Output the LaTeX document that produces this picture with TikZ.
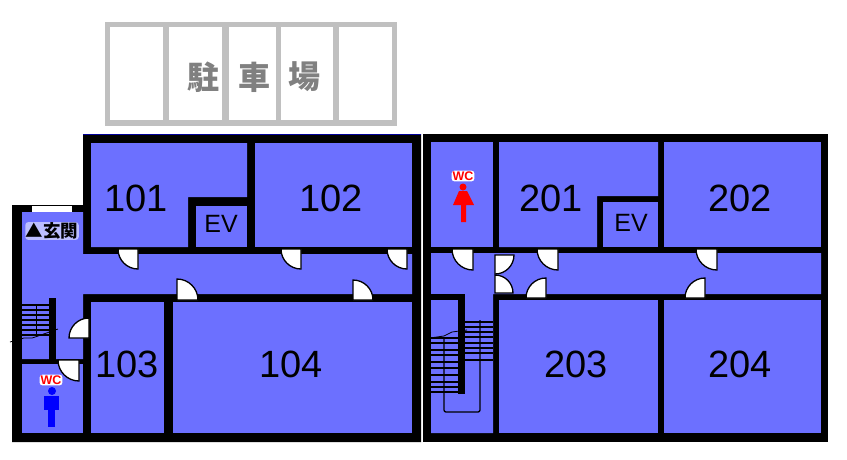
\documentclass[tikz,border=0pt]{standalone}
\usepackage{fontspec}
\setsansfont{Liberation Sans}
\newfontfamily\cjk{Noto Sans CJK JP}
\definecolor{roomblue}{HTML}{6C70FF}
\definecolor{parkgray}{HTML}{C0C0C0}
\begin{document}
\begin{tikzpicture}[x=1pt,y=-1pt,font=\sffamily]
    \tikzstyle{wall} = [fill=black]
    \tikzstyle{room} = [fill=roomblue]
    \tikzstyle{cell} = [fill=white]
    \tikzstyle{door} = [fill=white, draw=black, line width=1.3pt]
    \tikzstyle{tread} = [line width=1.7pt]
    \tikzstyle{number} = [font=\sffamily\fontsize{38}{38}\selectfont, inner sep=0pt]
    \tikzstyle{evlabel} = [font=\sffamily\fontsize{25}{25}\selectfont, inner sep=0pt]
    \tikzstyle{parklabel} = [font=\cjk\bfseries\fontsize{32}{32}\selectfont, text=black!50, inner sep=0pt]
    \tikzstyle{wclabel} = [font=\sffamily\bfseries\fontsize{12.5}{12.5}\selectfont, text=red, fill=white, rounded corners=3pt, inner sep=1pt]
    \useasboundingbox (0,0) rectangle (847,459);
    % Parking
    \fill [parkgray] (105,22) rectangle (397,126);
    \foreach \xa/\xb in {110/163, 169/222, 229/276, 281/333, 339/392}
        \fill [cell] (\xa,27) rectangle (\xb,120);
    \node (park1) [parklabel] at (203,77) {駐};
    \node (park2) [parklabel] at (254,77) {車};
    \node (park3) [parklabel] at (304,77) {場};
    % Walls
    \fill [wall] (12,205) -- (83,205) -- (83,134) -- (421,134) -- (421,442) -- (12,442) -- cycle;
    \fill [wall] (423,134) rectangle (828,442);
    \draw [blue!60!black, thin] (83,134) -- (421,134);
    \fill [white] (32,206) rectangle (72,212);
    % Rooms, first building
    \fill [room] (91,143) -- (247,143) -- (247,197) -- (188,197) -- (188,247) -- (91,247) -- cycle;
    \fill [room] (196,206) rectangle (247,247);
    \fill [room] (255,143) rectangle (412,247);
    \fill [room] (22,212) -- (83,212) -- (83,254) -- (412,254) -- (412,294) -- (83,294) -- (83,359) -- (22,359) -- cycle;
    \fill [room] (22,364) rectangle (83,433);
    \fill [room] (91,302) rectangle (164,433);
    \fill [room] (173,302) rectangle (412,433);
    % Rooms, second building
    \fill [room] (431,142) rectangle (493,247);
    \fill [room] (499,142) -- (658,142) -- (658,196) -- (597,196) -- (597,247) -- (499,247) -- cycle;
    \fill [room] (603,202) rectangle (658,247);
    \fill [room] (664,142) rectangle (821,247);
    \fill [room] (431,253) -- (821,253) -- (821,294) -- (493,294) -- (493,433) -- (431,433) -- cycle;
    \fill [room] (499,300) rectangle (658,433);
    \fill [room] (664,300) rectangle (821,433);
    \fill [wall] (431,294) rectangle (465,300);
    \fill [wall] (458,300) rectangle (465,394);
    % Stairs
    \fill [wall] (49,298) rectangle (56,360);
    \foreach \ty in {305,310,315,320,325,330,335}
        \draw [tread] (22,\ty) -- (49,\ty);
    \draw [thick] (36,305) -- (36,335);
    \draw [thick] (10,342) -- (24,338) -- (32,338) -- (38,336) -- (58,329);
    \foreach \ty in {338,343,350,355,362,368,375,382,387,392}
        \draw [tread] (431,\ty) -- (458,\ty);
    \foreach \ty in {322,327,332,337,343,348,353,360}
        \draw [tread] (465,\ty) -- (493,\ty);
    \draw [line width=1.3pt, rounded corners=2pt] (444,337) -- (444,412) -- (480,412) -- (480,320);
    \draw [thick] (430,338) -- (444,336) -- (452,332) -- (467,330);
    % Doors
    \foreach \cx/\cy/\ang/\rad in {138/249/90/20, 177/300/270/21, 353/300/270/20, 301/249/90/20, 407/249/90/20, 89/338/180/20, 79/360/90/21,
        473/249/90/21, 558/249/90/21, 546/298/180/20, 717/249/90/21, 705/298/180/20, 495/255/0/19, 495/293/270/18}
        \draw [door] (\cx,\cy) -- ++(\ang:\rad) arc (\ang:\ang+90:\rad) -- cycle;
    % Figures
    \fill [blue] (52,391) circle (4);
    \fill [blue] (44,396) rectangle (59,410);
    \fill [blue] (48,396) rectangle (55,427);
    \fill [red] (463,187) circle (3.5);
    \fill [red] (459,191) -- (467,191) -- (474,205) -- (466,205) -- (466,222) -- (461,222) -- (461,205) -- (453,205) -- cycle;
    % Labels
    \node (wcleft) [wclabel] at (51,380) {WC};
    \node (wcright) [wclabel] at (463,176) {WC};
    \node (entrance) [font=\cjk\bfseries\fontsize{17.5}{17.5}\selectfont, fill=white, fill opacity=0.55, text opacity=1, rounded corners=3pt, inner sep=0.5pt] at (52,231) {▲玄関};
    \node (r101) [number] at (136,198) {101};
    \node (r102) [number] at (331,198) {102};
    \node (r103) [number] at (127,364) {103};
    \node (r104) [number] at (291,364) {104};
    \node (r201) [number] at (551,198) {201};
    \node (r202) [number] at (740,198) {202};
    \node (r203) [number] at (576,364) {203};
    \node (r204) [number] at (740,364) {204};
    \node (ev1) [evlabel] at (221,224) {EV};
    \node (ev2) [evlabel] at (631,223) {EV};
\end{tikzpicture}
\end{document}
